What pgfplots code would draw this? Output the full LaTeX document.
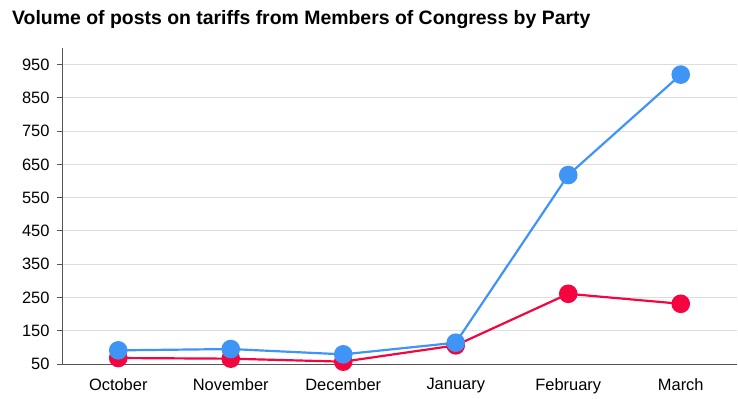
\documentclass[border=0pt]{standalone}
\usepackage{pgfplots}
\pgfplotsset{compat=1.18}
\usepackage{fontspec}
\setmainfont{Liberation Sans}
\definecolor{dem}{HTML}{3E95F5}
\definecolor{rep}{HTML}{F5053F}
\definecolor{gridc}{HTML}{DDDDDD}
\definecolor{axc}{HTML}{555555}
\begin{document}
\begin{tikzpicture}
\begin{axis}[
  at={(0,0)}, anchor=south west,
  scale only axis, width=675bp, height=316bp,
  xmin=-0.5, xmax=5.5, ymin=50, ymax=1000,
  xtick={0,1,2,3,4,5},
  xticklabels={October,November,December,January,February,March},
  ytick={50,150,...,950},
  ymajorgrids, grid style={gridc, line width=0.9pt},
  axis x line*=bottom, axis y line*=left,
  axis line style={axc, line width=1pt},
  x axis line style={-},
  y axis line style={-},
  major x tick style={draw=none},
  major y tick style={axc, line width=0.9pt},
  tick align=outside, major tick length=5bp,
  tick label style={font=\fontsize{16.5}{19}\selectfont, text=black},
  /pgf/number format/assume math mode=true,
  yticklabel style={xshift=-4bp},
  xticklabel style={yshift=-6bp},
  clip=false,
]
\addplot[rep, line width=2.2pt, mark=*, mark size=8.2bp, mark options={solid, fill=rep, draw=rep}]
  coordinates {(0,68) (1,66) (2,57) (3,106) (4,261) (5,231)};
\addplot[dem, line width=2.2pt, mark=*, mark size=8.2bp, mark options={solid, fill=dem, draw=dem}]
  coordinates {(0,91) (1,95) (2,79) (3,114) (4,618) (5,920)};
\end{axis}
\node[anchor=base west, font=\fontsize{19.5}{23}\selectfont\bfseries, inner sep=0pt] at (-50bp,339bp) {Volume of posts on tariffs from Members of Congress by Party};
\path[use as bounding box] (-62bp,-35bp) rectangle (676bp,364bp);
\end{tikzpicture}
\end{document}
